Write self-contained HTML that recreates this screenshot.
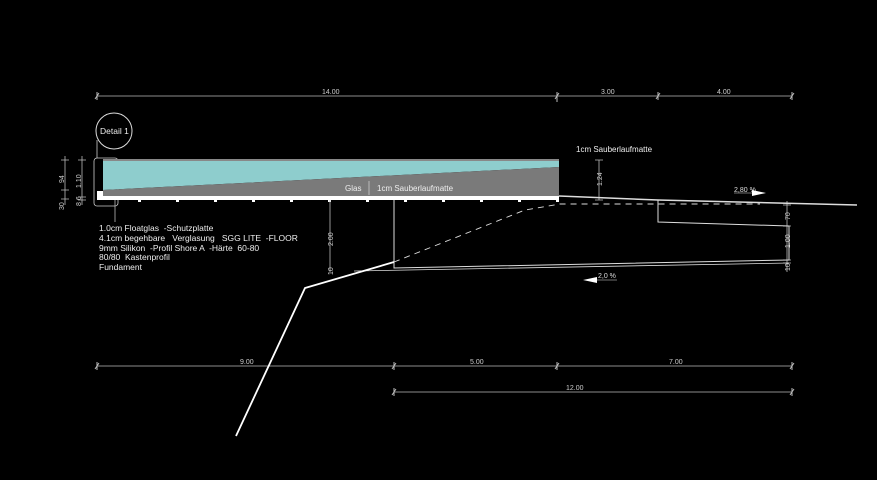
<!DOCTYPE html>
<html><head><meta charset="utf-8"><style>
html,body{margin:0;padding:0;background:#000;}
svg{display:block;font-family:"Liberation Sans",sans-serif;}
text{white-space:pre;}
</style></head><body>
<svg width="877" height="480" viewBox="0 0 877 480" xmlns="http://www.w3.org/2000/svg">
<rect width="877" height="480" fill="#000"/>
<g stroke="#bbb" stroke-width="0.8" fill="none">
<line x1="97" y1="96" x2="792" y2="96"/>
<line x1="97" y1="366" x2="792" y2="366"/>
<line x1="394" y1="392" x2="792" y2="392"/>
<g stroke-width="1">
<path d="M95,99l4,-6M555,99l4,-6M656,99l4,-6M790,99l4,-6"/>
<path d="M97,92v8M557,92v10M658,92v8M792,92v8"/>
<path d="M95,369l4,-6M392,369l4,-6M555,369l4,-6M790,369l4,-6"/>
<path d="M97,362v8M394,362v8M557,362v8M792,362v8"/>
<path d="M392,395l4,-6M790,395l4,-6M394,388v8M792,388v8"/>
</g>
</g>
<g fill="#ccc" font-size="7">
<text x="322" y="94">14.00</text>
<text x="601" y="94">3.00</text>
<text x="717" y="94">4.00</text>
<text x="240" y="364">9.00</text>
<text x="470" y="364">5.00</text>
<text x="669" y="364">7.00</text>
<text x="566" y="390">12.00</text>
</g>
<circle cx="114" cy="131" r="18" stroke="#ddd" stroke-width="1" fill="none"/>
<text x="100" y="134" fill="#eee" font-size="8.5">Detail 1</text>
<line x1="97" y1="140" x2="97" y2="158" stroke="#ccc" stroke-width="0.8"/>
<rect x="94" y="158" width="24" height="48" rx="3" stroke="#ccc" stroke-width="0.8" fill="none"/>
<rect x="103" y="159" width="456" height="2" fill="#888"/>
<polygon points="103,161 559,161 559,167 103,190" fill="#8ecdcd"/>
<polygon points="103,190 559,167 559,196 103,196" fill="#7a7a7a"/>
<rect x="97" y="196" width="462" height="4" fill="#fff"/>
<rect x="97" y="191" width="6" height="6" fill="#fff"/>
<g fill="#fff">
<rect x="138" y="199" width="3" height="3"/><rect x="176" y="199" width="3" height="3"/><rect x="214" y="199" width="3" height="3"/><rect x="252" y="199" width="3" height="3"/><rect x="290" y="199" width="3" height="3"/><rect x="328" y="199" width="3" height="3"/><rect x="366" y="199" width="3" height="3"/><rect x="404" y="199" width="3" height="3"/><rect x="442" y="199" width="3" height="3"/><rect x="480" y="199" width="3" height="3"/><rect x="518" y="199" width="3" height="3"/><rect x="556" y="199" width="3" height="3"/>
</g>
<line x1="369" y1="181" x2="369" y2="195" stroke="#ccc" stroke-width="0.8"/>
<text x="345" y="191" fill="#eee" font-size="8">Glas</text>
<text x="377" y="191" fill="#eee" font-size="8">1cm Sauberlaufmatte</text>
<text x="576" y="152" fill="#eee" font-size="8">1cm Sauberlaufmatte</text>
<g stroke="#bbb" stroke-width="0.8" fill="none">
<line x1="65" y1="156" x2="65" y2="205"/><line x1="82" y1="156" x2="82" y2="205"/>
<path d="M61,160h8M61,190h8M61,199h8M78,160h8M78,197h8M78,200h8"/>
<line x1="115" y1="200" x2="115" y2="222"/>
<line x1="330" y1="200" x2="330" y2="272"/>
<line x1="599" y1="160" x2="599" y2="200"/><path d="M595,160h8M595,200h8"/>
<line x1="787" y1="201" x2="787" y2="272"/><path d="M783,205h8M783,226h8M783,260h8M783,263h8"/>
</g>
<g fill="#ccc" font-size="7">
<text transform="translate(64,183) rotate(-90)">94</text>
<text transform="translate(81,188) rotate(-90)">1.10</text>
<text transform="translate(64,210) rotate(-90)">30</text>
<text transform="translate(81,206) rotate(-90)">8 6</text>
<text transform="translate(333,246) rotate(-90)">2.00</text>
<text transform="translate(333,275) rotate(-90)">10</text>
<text transform="translate(602,186) rotate(-90)">1.24</text>
<text transform="translate(790,220) rotate(-90)">70</text>
<text transform="translate(790,248) rotate(-90)">1.00</text>
<text transform="translate(790,271) rotate(-90)">10</text>
</g>
<g fill="#eee" font-size="8.5">
<text x="99" y="231">1.0cm Floatglas  -Schutzplatte</text>
<text x="99" y="241">4.1cm begehbare   Verglasung   SGG LITE  -FLOOR</text>
<text x="99" y="251">9mm Silikon  -Profil Shore A  -Härte  60-80</text>
<text x="99" y="260">80/80  Kastenprofil</text>
<text x="99" y="270">Fundament</text>
</g>
<g stroke="#ddd" fill="none">
<path d="M559,196 L658,200 L857,205" stroke-width="1.5"/>
<path d="M658,200 V222 L789,226 V260 L394,268 V200" stroke-width="1"/>
<path d="M789,263 L354,271" stroke-width="0.8"/>
<path d="M394,262 L525,210 L560,204 L760,204" stroke-width="0.9" stroke-dasharray="6,5"/>
<path d="M236,436 L305,288 L394,262" stroke="#fff" stroke-width="1.8"/>
</g>
<text x="734" y="192" fill="#ddd" font-size="7">2,80 %</text>
<line x1="734" y1="193" x2="752" y2="193" stroke="#ddd" stroke-width="0.6"/>
<polygon points="752,190 766,193 752,196" fill="#fff"/>
<text x="598" y="278" fill="#ddd" font-size="7">2,0 %</text>
<line x1="594" y1="280" x2="617" y2="280" stroke="#ddd" stroke-width="0.6"/>
<polygon points="597,277 583,280 597,283" fill="#fff"/>
</svg>
</body></html>
